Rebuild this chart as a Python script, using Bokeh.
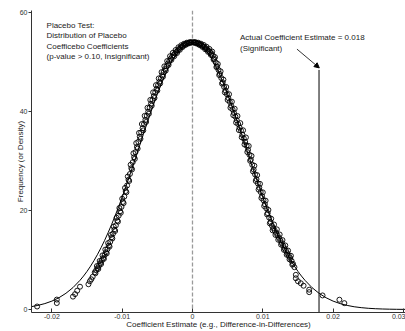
from bokeh.plotting import figure
from bokeh.models import Range1d, FixedTicker, Label, Arrow, NormalHead, Span
from bokeh.embed import file_html
from bokeh.resources import INLINE

# ---------------- data ----------------
# fitted density curve
curve_x = [-0.023, -0.022, -0.021, -0.020, -0.019, -0.018, -0.017, -0.016,
           -0.0155, -0.015, -0.0145, -0.014, -0.0135, -0.013, -0.0125, -0.012,
           -0.0115, -0.011, -0.0105, -0.010, -0.0095, -0.009, -0.0085, -0.008,
           -0.0075, -0.007, -0.0065, -0.006, -0.0055, -0.005, -0.0045, -0.004,
           -0.0035, -0.003, -0.0025, -0.002, -0.0015, -0.001, -0.0005, 0.0,
           0.0005, 0.001, 0.0015, 0.002, 0.0025, 0.003, 0.0035, 0.004,
           0.0045, 0.005, 0.0055, 0.006, 0.0065, 0.007, 0.0075, 0.008,
           0.0085, 0.009, 0.0095, 0.010, 0.0105, 0.011, 0.0115, 0.012,
           0.0125, 0.013, 0.0135, 0.014, 0.0145, 0.015, 0.0155,
           0.016, 0.017, 0.018, 0.019, 0.020, 0.021, 0.022, 0.023, 0.024,
           0.025, 0.026, 0.027, 0.028, 0.029, 0.030, 0.031]
curve_y = [0.55, 0.82, 1.19, 1.69, 2.37, 3.27, 4.42, 5.89,
           6.75, 7.70, 8.75, 9.90, 11.15, 12.50, 13.96, 15.53,
           17.19, 18.95, 20.79, 22.72, 24.72, 26.78, 28.89, 31.03,
           33.18, 35.33, 37.46, 39.54, 41.56, 43.49, 45.32, 47.02,
           48.57, 49.95, 51.16, 52.16, 52.96, 53.53, 53.88, 54.00,
           53.88, 53.53, 52.96, 52.16, 51.16, 49.95, 48.57, 47.02,
           45.32, 43.49, 41.56, 39.54, 37.46, 35.33, 33.18, 31.03,
           28.89, 26.78, 24.72, 22.72, 20.79, 18.95, 17.19, 15.53,
           13.96, 12.50, 11.15, 9.90, 8.75, 7.70, 6.75,
           5.89, 4.42, 3.27, 2.37, 1.69, 1.19, 0.82, 0.55, 0.37,
           0.24, 0.155, 0.098, 0.061, 0.037, 0.022, 0.013]

# placebo coefficient estimates (x in units of 1e-4) and their density
placebo_x_e4 = [-221, -193, -193, -170, -167, -164, -160, -148, -146, -144, -142,
                -139, -137, -135, -133, -131, -129, -127, -125, -123, -121,
                -119, -117, -115, -113, -111, -109, -107, -105, -103, -101,
                -99, -97, -95, -93, -91, -89, -87, -85, -83, -81,
                -79, -77, -75, -73, -71, -69, -67, -65, -63, -61,
                -59, -57, -55, -53, -51, -49, -47, -45, -43, -41,
                -39, -37, -35, -33, -31, -29, -27, -25, -23, -21,
                -19, -17, -15, -13, -11, -9, -7, -5, -3, -1,
                1, 3, 5, 7, 9, 11, 13, 15, 17, 19,
                21, 23, 25, 27, 29, 31, 33, 35, 37, 39,
                41, 43, 45, 47, 49, 51, 53, 55, 57, 59,
                61, 63, 65, 67, 69, 71, 73, 75, 77, 79,
                81, 83, 85, 87, 89, 91, 93, 95, 97, 99,
                101, 103, 105, 107, 109, 111, 113, 115, 117, 119,
                121, 123, 125, 127, 129, 131, 133, 135, 137, 139,
                141, 143, 145,
                147, 147, 150, 154, 158, 166, 166, 185, 209, 216,
                -136, -132, -128, -124, -120, -116, -112, -108, -104, -100,
                -96, -92, -88, -84, -80, -76, -72, -68, -64, -60,
                -56, -52, -48, -44, -40, -36, -32, -28, -24, -20,
                -16, -12, -8, -4,
                4, 8, 12, 16, 20, 24, 28, 32, 36, 40,
                44, 48, 52, 56, 60, 64, 68, 72, 76, 80,
                84, 88, 92, 96, 100, 104, 108, 112, 116, 120,
                124, 128, 132, 136, 140,
                -138, -134, -130, -126, -122, -118, -114, -110, -106, -102,
                -98, -94, -90, -86, -82, -78, -74, -70, -66, -62,
                -58, -54, -50, -46, -42, -38, -34, -30, -26, -22,
                -18, -14, -10, -6, -2,
                2, 6, 10, 14, 18, 22, 26, 30, 34, 38,
                42, 46, 50, 54, 58, 62, 66, 70, 74, 78,
                82, 86, 90, 94, 98, 102, 106, 110, 114, 118,
                122, 126, 130, 134, 138, 142]
placebo_y = [0.6, 2.0, 1.3, 2.6, 3.1, 3.8, 4.6, 5.1, 5.7, 6.1, 6.6,
             7.51, 7.91, 8.37, 8.84, 9.39, 9.90, 10.39, 10.99, 11.58, 12.18,
             12.91, 13.67, 14.59, 15.34, 16.13, 16.99, 17.96, 18.95, 19.83, 20.72,
             21.72, 22.80, 23.92, 25.05, 26.20, 27.37, 28.55, 29.75, 30.77, 31.80,
             32.84, 33.87, 34.90, 35.76, 36.61, 37.46, 38.29, 39.12, 39.94, 40.75,
             41.56, 42.33, 43.10, 43.86, 44.59, 45.32, 46.00, 46.68, 47.33, 47.95,
             48.57, 49.12, 49.67, 50.19, 50.68, 51.06, 51.40, 51.72, 52.04, 52.35,
             52.64, 52.93, 53.14, 53.35, 53.54, 53.67, 53.80, 53.89, 53.94, 53.98,
             53.98, 53.94, 53.89, 53.79, 53.66, 53.54, 53.37, 53.19, 53.01, 52.77,
             52.51, 52.29, 52.00, 51.72, 51.28, 50.63, 49.92, 49.12, 48.38, 47.58,
             46.75, 45.86, 44.95, 44.22, 43.49, 42.72, 41.95, 41.16, 40.43, 39.70,
             38.96, 38.21, 37.46, 36.74, 36.14, 35.29, 34.56, 33.83, 33.09, 32.23,
             31.25, 30.26, 29.23, 28.26, 27.29, 26.33, 25.46, 24.60, 23.72, 22.88,
             22.06, 21.25, 20.42, 19.46, 18.56, 17.65, 16.92, 16.43, 15.93, 15.47,
             14.96, 14.46, 13.96, 13.41, 12.88, 12.34, 11.85, 11.34, 10.85, 10.40,
             9.81, 9.21, 8.54,
             7.0, 6.3, 5.7, 5.3, 4.8, 4.0, 3.5, 2.84, 1.97, 1.28,
             8.77, 9.81, 10.93, 12.10, 13.41, 15.06, 16.73, 18.53, 20.50, 22.37,
             24.56, 26.86, 29.23, 31.55, 33.61, 35.67, 37.46, 39.12, 40.75, 42.33,
             43.86, 45.32, 46.68, 47.95, 49.12, 50.19, 51.16, 51.84, 52.42, 52.97,
             53.38, 53.69, 53.90, 54.00,
             54.00, 53.90, 53.70, 53.44, 53.07, 52.64, 52.10, 50.99, 49.59, 48.11,
             46.44, 44.95, 43.49, 41.98, 40.55, 39.08, 37.65, 36.20, 34.75, 33.03,
             31.03, 29.04, 27.14, 25.38, 23.66, 21.99, 20.11, 18.33, 17.17, 16.19,
             15.15, 14.02, 12.94, 11.89, 10.85,
             7.32, 8.18, 9.19, 10.23, 11.34, 12.70, 14.34, 15.86, 17.75, 19.54,
             21.48, 23.68, 25.96, 28.30, 30.43, 32.49, 34.47, 36.18, 37.88, 39.54,
             41.16, 42.72, 44.22, 45.66, 47.02, 48.26, 49.40, 50.43, 51.16, 51.82,
             52.46, 53.02, 53.43, 53.72, 53.91,
             53.91, 53.71, 53.42, 53.05, 52.58, 52.06, 51.46, 50.48, 48.97, 47.36,
             45.63, 43.86, 42.33, 40.75, 39.25, 37.75, 36.24, 34.79, 33.33, 31.80,
             30.04, 27.90, 25.96, 24.22, 22.51, 20.89, 19.21, 17.40, 15.99, 15.06,
             14.09, 13.10, 12.05, 11.06, 10.13, 9.05]
placebo_x = [v / 10000.0 for v in placebo_x_e4]

actual_estimate = 0.018
actual_line_top = 48.4

x_ticks = [-0.02, -0.01, 0.0, 0.01, 0.02, 0.03]
x_tick_labels = ["-0.02", "-0.01", "0", "0.01", "0.02", "0.03"]
y_ticks = [0, 20, 40, 60]

note_left = "Placebo Test:\nDistribution of Placebo\nCoefficebo Coefficients\n(p-value > 0.10, Insignificant)"
note_right = "Actual Coefficient Estimate = 0.018\n(Significant)"

# ---------------- figure ----------------
FONT = "Liberation Sans"
Y0, Y1 = -0.61, 60.4
p = figure(width=405, height=331, output_backend="svg", toolbar_location=None,
           x_range=Range1d(-0.0229, 0.0303), y_range=Range1d(Y0, Y1),
           min_border_left=31, min_border_right=0, min_border_top=10,
           min_border_bottom=16)
p.xgrid.visible = False
p.ygrid.visible = False
p.outline_line_color = None
p.background_fill_color = "white"
p.border_fill_color = "white"

for ax in (p.xaxis[0], p.yaxis[0]):
    ax.axis_line_color = "#333333"
    ax.major_tick_line_color = "#333333"
    ax.minor_tick_line_color = None
    ax.major_label_text_font = FONT
    ax.major_label_text_font_size = "7px"
    ax.major_label_text_color = "#333333"
    ax.axis_label_text_font = FONT
    ax.axis_label_text_font_style = "normal"
    ax.axis_label_text_color = "#222222"

p.xaxis.ticker = FixedTicker(ticks=x_ticks)
p.xaxis.major_label_overrides = {t: l for t, l in zip(x_ticks, x_tick_labels)}
p.xaxis.major_tick_in = 4
p.xaxis.major_tick_out = 0
p.xaxis.major_label_standoff = 1
p.xaxis.axis_label = "Coefficient Estimate (e.g., Difference-in-Differences)"
p.xaxis.axis_label_text_font_size = "8px"
p.xaxis.axis_label_standoff = -2

p.yaxis.ticker = FixedTicker(ticks=y_ticks)
p.yaxis.major_tick_in = 0
p.yaxis.major_tick_out = 3
p.yaxis.major_label_standoff = 1
p.yaxis.axis_label = "Frequency (or Density)"
p.yaxis.axis_label_text_font_size = "8px"
p.yaxis.axis_label_standoff = -8

# zero reference
p.add_layout(Span(location=0, dimension="height", line_color="#9a9a9a",
                  line_width=1.3, line_dash="4 2", level="underlay"))

# density curve and placebo points
p.line(curve_x, curve_y, line_color="black", line_width=1)
p.scatter(placebo_x, placebo_y, marker="circle", size=5, fill_color=None,
          line_color="black", line_width=0.9)

# actual estimate
p.segment(x0=[actual_estimate], y0=[Y0], x1=[actual_estimate], y1=[actual_line_top],
          line_color="black", line_width=1)
p.add_layout(Arrow(end=NormalHead(size=5, fill_color="black", line_color="black"),
                   x_start=0.01486, y_start=52.6, x_end=0.01804, y_end=48.8,
                   line_color="black", line_width=0.8))

p.add_layout(Label(x=-0.02076, y=58.3, text=note_left, text_font=FONT,
                   text_font_size="8px", text_color="#222222",
                   text_baseline="top", text_line_height=1.15))
p.add_layout(Label(x=0.00676, y=55.8, text=note_right, text_font=FONT,
                   text_font_size="8px", text_color="#222222",
                   text_baseline="top", text_line_height=1.15))

open("out.html", "w").write(file_html(p, INLINE))
